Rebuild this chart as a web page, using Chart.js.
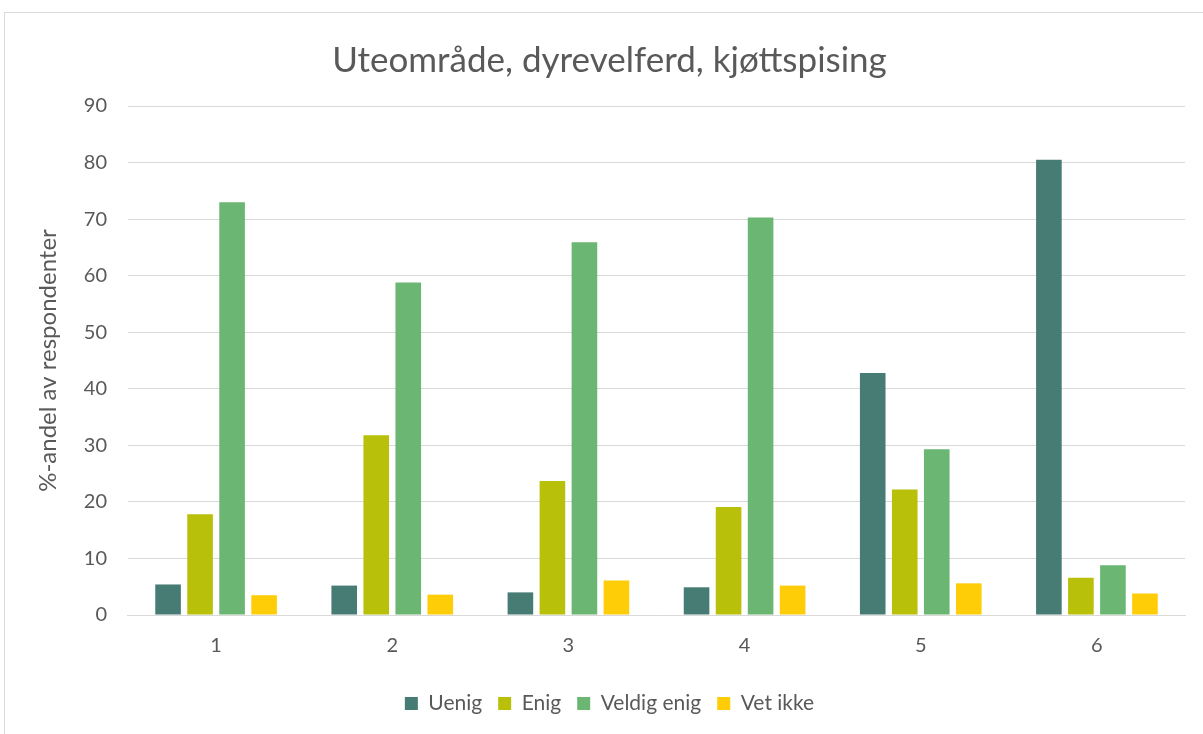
<!DOCTYPE html>
<html>
<head>
<meta charset="utf-8">
<script src="https://cdn.jsdelivr.net/npm/chart.js@4/dist/chart.umd.min.js"></script>
<style>
  body { margin: 0; background: #fff; }
  #frame { position: absolute; left: 4px; top: 12px; width: 1210px; height: 740px; border: 1px solid #d9d9d9; }
  #wrap { position: absolute; left: 0; top: 0; width: 1203px; height: 734px; }
</style>
</head>
<body>
<div id="frame"></div>
<div id="wrap"><canvas id="chart"></canvas></div>
<script>
var categories = ['1', '2', '3', '4', '5', '6'];
var uenig = [5.4, 5.2, 4.0, 4.9, 42.8, 80.5];
var enig = [17.8, 31.8, 23.7, 19.1, 22.2, 6.6];
var veldigEnig = [73.0, 58.8, 65.9, 70.3, 29.3, 8.8];
var vetIkke = [3.5, 3.6, 6.1, 5.2, 5.6, 3.8];

var textColor = '#595959';
var gridColor = '#d9d9d9';
var fontFamily = 'Lato, "Open Sans", sans-serif';

var ctx = document.getElementById('chart').getContext('2d');

var chart = new Chart(ctx, {
    type: 'bar',
    data: {
        labels: categories,
        datasets: [
            { label: 'Uenig', data: uenig, backgroundColor: '#467c73' },
            { label: 'Enig', data: enig, backgroundColor: '#b8c00a' },
            { label: 'Veldig enig', data: veldigEnig, backgroundColor: '#6ab672' },
            { label: 'Vet ikke', data: vetIkke, backgroundColor: '#ffcd08' }
        ]
    },
    options: {
        responsive: true,
        maintainAspectRatio: false,
        animation: false,
        layout: { padding: { left: 34, right: 18, top: 20, bottom: 10 } },
        datasets: {
            bar: { categoryPercentage: 0.727, barPercentage: 0.8 }
        },
        plugins: {
            title: {
                display: true,
                text: 'Uteområde, dyrevelferd, kjøttspising',
                color: textColor,
                font: { family: fontFamily, size: 35, weight: 'normal' },
                padding: { top: 20, bottom: 24 }
            },
            legend: {
                position: 'bottom',
                labels: {
                    color: textColor,
                    font: { family: fontFamily, size: 21 },
                    boxWidth: 13,
                    boxHeight: 13,
                    padding: 16
                }
            },
            tooltip: { enabled: false }
        },
        scales: {
            x: {
                grid: { display: false, drawTicks: false },
                border: { color: gridColor },
                ticks: { color: textColor, font: { family: fontFamily, size: 20 }, padding: 19 }
            },
            y: {
                min: 0,
                max: 90,
                ticks: { stepSize: 10, color: textColor, font: { family: fontFamily, size: 20 }, padding: 21 },
                grid: { color: gridColor, drawTicks: false },
                border: { display: false },
                title: {
                    display: true,
                    text: '%-andel av respondenter',
                    color: textColor,
                    font: { family: fontFamily, size: 24 },
                    padding: 0
                }
            }
        }
    }
});
</script>
</body>
</html>
